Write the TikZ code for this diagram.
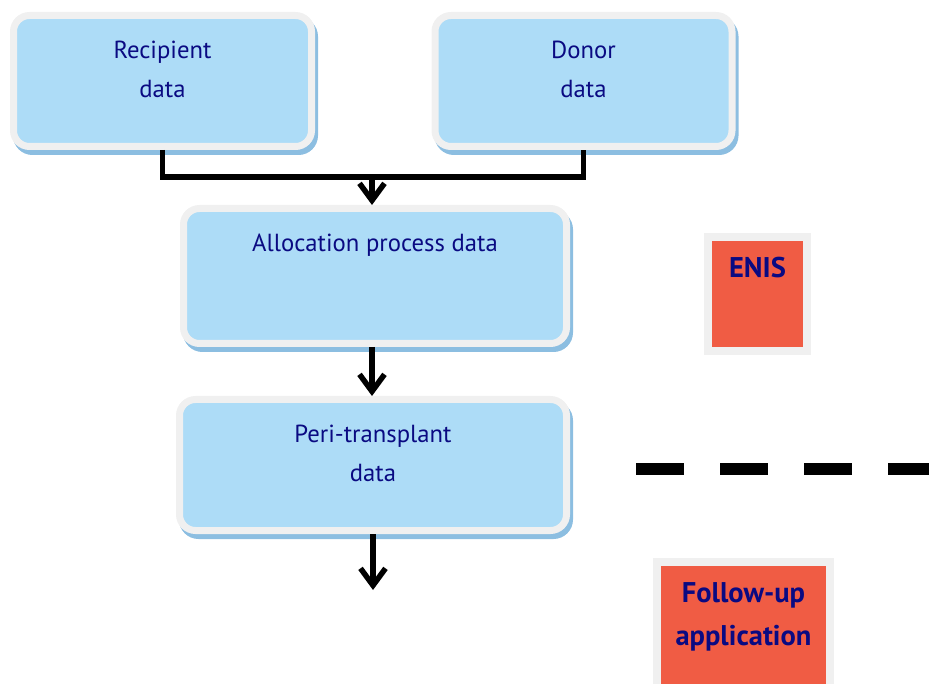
\documentclass[tikz,border=0pt]{standalone}
\usepackage{fontspec}
\setmainfont{PT Sans}
\usetikzlibrary{positioning, arrows.meta, shadows, calc}

\definecolor{boxblue}{RGB}{173,220,247}
\definecolor{boxrim}{RGB}{240,240,240}
\definecolor{rimshadow}{RGB}{140,190,225}
\definecolor{appred}{RGB}{240,92,68}
\definecolor{textnavy}{RGB}{10,10,130}

\begin{document}
\begin{tikzpicture}[
        x=1pt, y=-1pt,
        % riquadri azzurri dei dati
        datablock/.style={rectangle, rounded corners=16pt, fill=boxblue, draw=boxrim, line width=7pt,
            general shadow={shadow xshift=3pt, shadow yshift=-5pt, fill=rimshadow, draw=rimshadow, line width=7pt}},
        datatext/.style={font=\fontsize{24.7}{39}\selectfont, text=textnavy, align=center, inner sep=0pt, anchor=north, yshift=-29pt},
        % riquadri rossi delle applicazioni
        appblock/.style={rectangle, fill=appred, draw=boxrim, line width=8pt},
        apptext/.style={font=\fontsize{28.5}{43}\selectfont\bfseries, text=textnavy, align=center, inner sep=0pt, anchor=north, yshift=-24pt},
        flow/.style={line width=5.5pt},
        flowarrow/.style={flow, -{Straight Barb[length=17pt, width=25pt]}}
    ]
    \clip (0,0) rectangle (929,684);

    % dati del ricevente e del donatore
    \node (recipient) [datablock, minimum width=298pt, minimum height=131pt,
        label={[datatext]north:Recipient\\data}] at (162.5,81) {};
    \node (donor) [datablock, minimum width=297pt, minimum height=131pt,
        label={[datatext]north:Donor\\data}] at (583.5,81) {};

    % processo di allocazione e peri-trapianto
    \node (allocation) [datablock, minimum width=383pt, minimum height=135pt,
        label={[datatext]north:Allocation process data}] at (375,276) {};
    \node (peri) [datablock, minimum width=387pt, minimum height=131pt,
        label={[datatext]north:Peri-transplant\\data}] at (373,465) {};

    % applicazioni
    \node (enis) [appblock, minimum width=99pt, minimum height=114pt,
        label={[apptext]north:ENIS}] at (757.5,294) {};
    \node (followup) [appblock, minimum width=173pt, minimum height=140pt,
        label={[apptext]north:Follow-up\\application}] at (743.5,632) {};

    \draw[line width=12pt, dash pattern=on 48pt off 36pt] (636,469) -- (940,469);

    % collegamenti
    \coordinate (join) at (372,177);
    \coordinate (exit) at (373,590);
    \draw[flow] (recipient.south) |- (join) -| (donor.south);
    \draw[flowarrow] (join) -- (join |- allocation.north);
    \draw[flowarrow] (allocation.south -| join) -- (join |- peri.north);
    \draw[flowarrow] (peri.south -| exit) -- (exit);
\end{tikzpicture}
\end{document}
